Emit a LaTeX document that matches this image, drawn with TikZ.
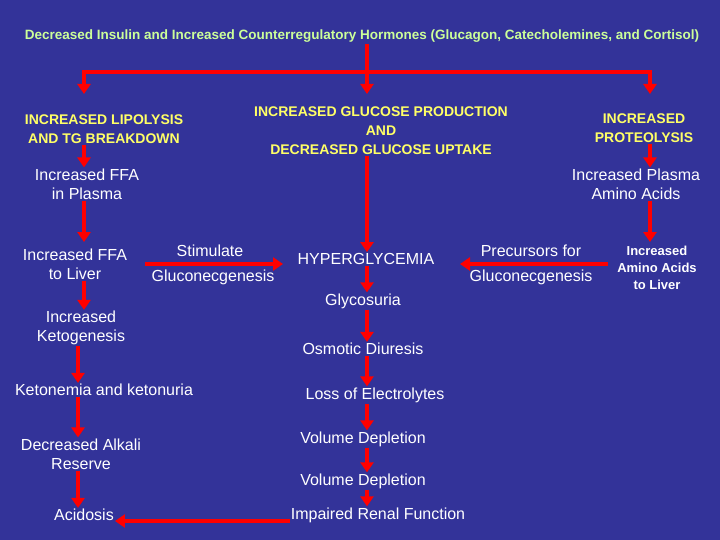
\documentclass[tikz,border=0pt]{standalone}
\usepackage{fontspec}
\setmainfont{Liberation Sans}
\usetikzlibrary{arrows.meta}
\definecolor{bg}{RGB}{51,51,153}
\definecolor{ttl}{RGB}{204,255,153}
\definecolor{yel}{RGB}{255,255,102}
\definecolor{arr}{RGB}{255,0,0}
\tikzset{
  txt/.style={text=white,font=\fontsize{16}{19}\selectfont,align=center,inner sep=1pt},
  hdr/.style={text=yel,font=\bfseries\fontsize{14}{19}\selectfont,align=center,inner sep=1pt},
  arw/.style={draw=arr,line width=4pt,-{Triangle[width=13pt,length=10pt]}},
  ln/.style={draw=arr,line width=4pt}
}
\begin{document}
\begin{tikzpicture}[x=1pt,y=-1pt]
\fill[bg] (0,0) rectangle (720,540);
\useasboundingbox (0,0) rectangle (720,540);
\coordinate (xl) at (84,0);
\coordinate (xm) at (367,0);
\coordinate (xr) at (650,0);
\node[text=ttl,font=\bfseries\fontsize{13.5}{15}\selectfont,inner sep=1pt] (title) at (362,36) {Decreased Insulin and Increased Counterregulatory Hormones (Glucagon, Catecholemines, and Cortisol)};
\node[hdr] (lip) at (104,129) {INCREASED LIPOLYSIS\\AND TG BREAKDOWN};
\node[hdr] (glu) at (381,131) {INCREASED GLUCOSE PRODUCTION\\AND\\DECREASED GLUCOSE UPTAKE};
\node[hdr] (pro) at (644,128) {INCREASED\\PROTEOLYSIS};
\coordinate (top) at (367,72);
\coordinate (tl) at (84,72);
\coordinate (tr) at (650,72);
\draw[ln] (title.south -| xm) -- (top);
\draw[ln] ([xshift=-2pt]tl) -- ([xshift=2pt]tr);
\draw[arw] ([yshift=-2pt]tl) -- (84,94);
\draw[arw] (top) -- (367,94);
\draw[arw] ([yshift=-2pt]tr) -- (650,94);
\node[txt] (ffa) at (87,184) {Increased FFA\\in Plasma};
\node[txt] (pla) at (636,184) {Increased Plasma\\Amino Acids};
\draw[arw] (lip.south -| xl) -- (ffa.north -| xl);
\draw[arw] (pro.south -| xr) -- (pla.north -| xr);
\node[txt] (liv) at (75,264) {Increased FFA\\to Liver};
\node[txt,font=\bfseries\fontsize{13}{17}\selectfont] (aal) at (657,268) {Increased\\Amino Acids\\to Liver};
\draw[arw] (ffa.south -| xl) -- (84,242);
\draw[arw] (pla.south -| xr) -- (650,242);
\node[txt] (hyp) at (366,259) {HYPERGLYCEMIA};
\node[txt] (stim) at (210,251) {Stimulate};
\node[txt] (sg) at (213,277) {Gluconecgenesis};
\node[txt] (prec) at (531,251) {Precursors for};
\node[txt] (pg) at (531,277) {Gluconecgenesis};
\draw[arw] (145,264) -- (283,264);
\draw[arw] (608,264) -- (460,264);
\draw[arw] (glu.south -| xm) -- (hyp.north -| xm);
\node[txt] (gly) at (363,301) {Glycosuria};
\node[txt] (osm) at (363,349) {Osmotic Diuresis};
\node[txt] (loss) at (375,395) {Loss of Electrolytes};
\node[txt] (vd1) at (363,439) {Volume Depletion};
\node[txt] (vd2) at (363,481) {Volume Depletion};
\node[txt] (ren) at (378,515) {Impaired Renal Function};
\draw[arw] (hyp.south -| xm) -- (gly.north -| xm);
\draw[arw] (gly.south -| xm) -- (osm.north -| xm);
\draw[arw] (osm.south -| xm) -- (loss.north -| xm);
\draw[arw] (loss.south -| xm) -- (vd1.north -| xm);
\draw[arw] (vd1.south -| xm) -- (vd2.north -| xm);
\draw[arw] (vd2.south -| xm) -- (ren.north -| xm);
\node[txt] (ket) at (81,328) {Increased\\Ketogenesis};
\node[txt] (ktn) at (104,390) {Ketonemia and ketonuria};
\node[txt] (alk) at (81,454) {Decreased Alkali\\Reserve};
\node[txt] (aci) at (84,515) {Acidosis};
\coordinate (xk) at (78,0);
\draw[arw] (liv.south -| xl) -- (ket.north -| xl);
\draw[arw] (ket.south -| xk) -- (ktn.north -| xk);
\draw[arw] (ktn.south -| xk) -- (alk.north -| xk);
\draw[arw] (alk.south -| xk) -- (aci.north -| xk);
\draw[arw] (ren.west |- 0,521) -- (aci.east |- 0,521);
\end{tikzpicture}
\end{document}
